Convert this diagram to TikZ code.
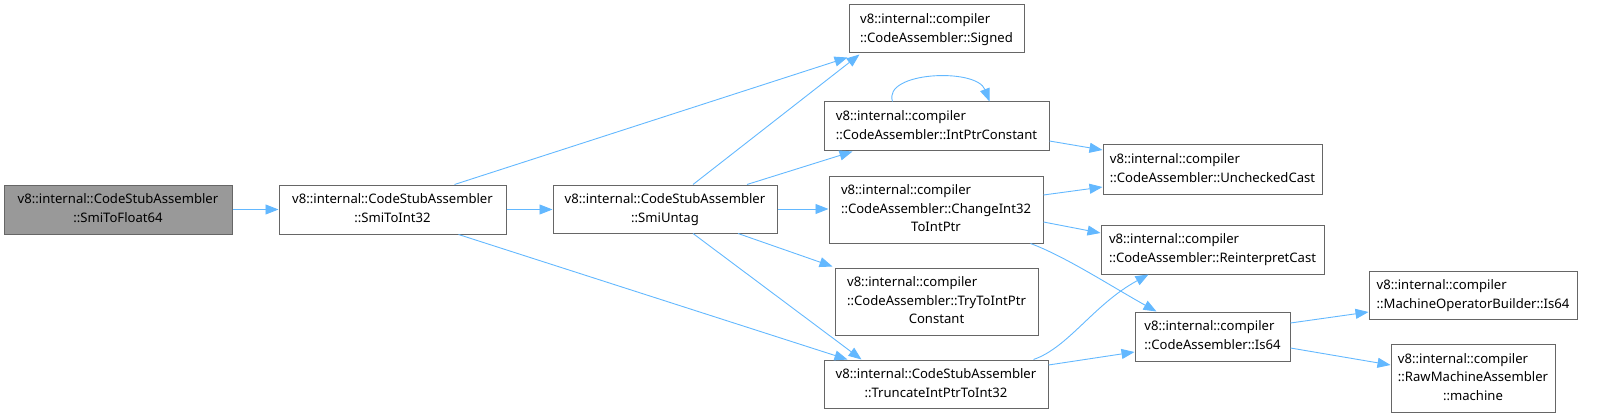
\documentclass[tikz,border=0pt]{standalone}
\usepackage{fontspec}
\setmainfont{Noto Sans}
\usetikzlibrary{arrows.meta,calc}
\definecolor{edgeblue}{HTML}{63B8FF}
\definecolor{boxgray}{HTML}{666666}
\definecolor{rootfill}{HTML}{999999}
\newcommand\Ll[1]{\multicolumn{1}{@{}l@{}}{#1}}
\begin{document}
\begin{tikzpicture}[x=1pt,y=-1pt,
  fn/.style={draw=boxgray,line width=1pt,fill=white,inner sep=0pt,
    font=\fontsize{13.1}{18.7}\selectfont,text=black},
  e/.style={draw=edgeblue,line width=0.9pt,-{Triangle[length=13pt,width=10pt]}}]
\useasboundingbox (0,0) rectangle (1609,417);
\node[fn,fill=rootfill,minimum width=228pt,minimum height=49pt] (A) at (118,209.5)
  {\begin{tabular}{@{}c@{}}v8::internal::CodeStubAssembler\\::SmiToFloat64\end{tabular}};
\node[fn,minimum width=227pt,minimum height=49pt] (B) at (392.5,209.5)
  {\begin{tabular}{@{}c@{}}v8::internal::CodeStubAssembler\\::SmiToInt32\end{tabular}};
\node[fn,minimum width=224pt,minimum height=48pt] (C) at (665,209)
  {\begin{tabular}{@{}c@{}}v8::internal::CodeStubAssembler\\::SmiUntag\end{tabular}};
\node[fn,minimum width=175pt,minimum height=48pt] (D) at (936.5,29)
  {\begin{tabular}{@{}l@{}}v8::internal::compiler\\::CodeAssembler::Signed\end{tabular}};
\node[fn,minimum width=225pt,minimum height=49pt] (E) at (936.5,126.5)
  {\begin{tabular}{@{}l@{}}v8::internal::compiler\\::CodeAssembler::IntPtrConstant\end{tabular}};
\node[fn,minimum width=214pt,minimum height=67pt] (F) at (936,209.5)
  {\begin{tabular}{@{}c@{}}\Ll{v8::internal::compiler}\\\Ll{::CodeAssembler::ChangeInt32}\\ToIntPtr\end{tabular}};
\node[fn,minimum width=203pt,minimum height=67pt] (G) at (936.5,301.5)
  {\begin{tabular}{@{}c@{}}\Ll{v8::internal::compiler}\\\Ll{::CodeAssembler::TryToIntPtr}\\Constant\end{tabular}};
\node[fn,minimum width=224pt,minimum height=48pt] (H) at (936,384)
  {\begin{tabular}{@{}c@{}}v8::internal::CodeStubAssembler\\::TruncateIntPtrToInt32\end{tabular}};
\node[fn,minimum width=219pt,minimum height=49pt] (I) at (1212.5,169.5)
  {\begin{tabular}{@{}l@{}}v8::internal::compiler\\::CodeAssembler::UncheckedCast\end{tabular}};
\node[fn,minimum width=223pt,minimum height=49pt] (J) at (1212.5,249.5)
  {\begin{tabular}{@{}l@{}}v8::internal::compiler\\::CodeAssembler::ReinterpretCast\end{tabular}};
\node[fn,minimum width=155pt,minimum height=49pt] (K) at (1212.5,336.5)
  {\begin{tabular}{@{}l@{}}v8::internal::compiler\\::CodeAssembler::Is64\end{tabular}};
\node[fn,minimum width=208pt,minimum height=48pt] (L) at (1473,295)
  {\begin{tabular}{@{}l@{}}v8::internal::compiler\\::MachineOperatorBuilder::Is64\end{tabular}};
\node[fn,minimum width=164pt,minimum height=68pt] (M) at (1473,378)
  {\begin{tabular}{@{}c@{}}\Ll{v8::internal::compiler}\\\Ll{::RawMachineAssembler}\\::machine\end{tabular}};
% edges
\draw[e] (A.east) -- (A.east -| B.west);
\draw[e] ($(B.north)+(62,0)$) -- ($(D.south west)+(-1,4)$);
\draw[e] (B.east) -- (B.east -| C.west);
\draw[e] ($(B.south)+(66,0)$) -- ($(H.north west)+(24,0)$);
\draw[e] ($(C.north)+(28,0)$) -- ($(D.south west)+(11,1)$);
\draw[e] ($(C.north)+(82,0)$) -- ($(E.south west)+(29,0)$);
\draw[e] (C.east) -- (C.east -| F.west);
\draw[e] ($(C.south)+(73,0)$) -- ($(G.north west)+(-2,-1)$);
\draw[e] ($(C.south)+(28,0)$) -- ($(H.north west)+(38,0)$);
\draw[e] ($(E.north)+(-44,0)$) .. controls ($(E.north)+(-54,-30)$) and ($(E.north)+(40,-34)$) .. ($(E.north)+(53,0)$);
\draw[e] ($(E.east)+(0,14.5)$) -- ($(I.west)+(0,-19.5)$);
\draw[e] ($(F.east)+(0,-14.5)$) -- ($(I.west)+(0,17.5)$);
\draw[e] ($(F.east)+(0,12.5)$) -- ($(J.west)+(0,-16.5)$);
\draw[e] ($(F.south east)+(-13,0)$) .. controls +(35,13) and +(-45,-25) .. ($(K.north west)+(22,0)$);
\draw[e] ($(H.north east)+(-15,0)$) .. controls +(35,-12) and +(-55,30) .. ($(J.south west)+(48,0)$);
\draw[e] ($(H.east)+(0,-19)$) -- ($(K.west)+(0,15.5)$);
\draw[e] ($(K.east)+(0,-13.5)$) -- ($(L.west)+(0,17)$);
\draw[e] ($(K.east)+(0,11.5)$) -- ($(M.west)+(0,-13)$);
\end{tikzpicture}
\end{document}
